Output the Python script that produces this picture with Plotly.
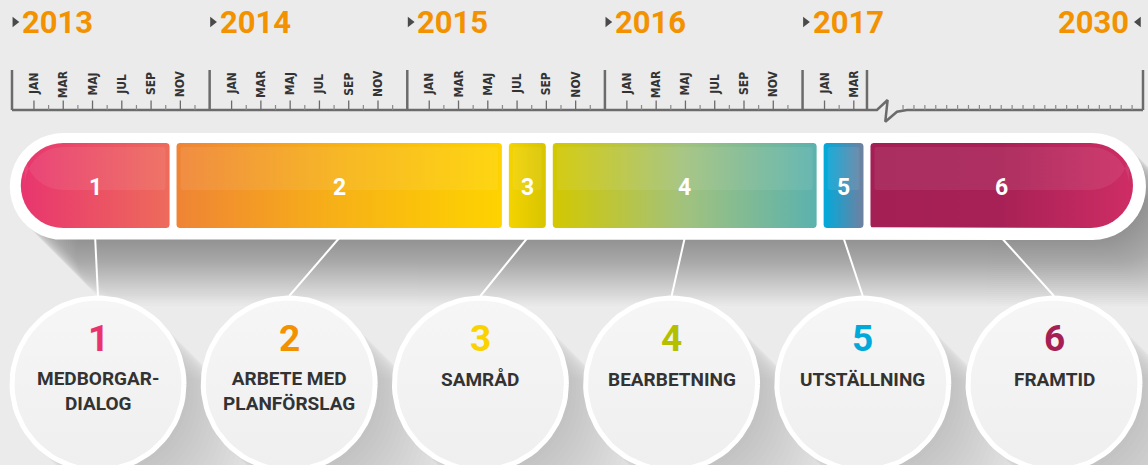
import numpy as np
import plotly.graph_objects as go

# ---- data ----
YEARS = [2013, 2014, 2015, 2016, 2017]
END_YEAR = 2030
MONTHS = ["JAN", "FEB", "MAR", "APR", "MAJ", "JUN", "JUL", "AUG", "SEP", "OKT", "NOV", "DEC"]
MONTHS_SHOWN_LAST_YEAR = 3  # detailed axis stops after March 2017
FAR_TICK_YEARS = [2019, 2019.5, 2020, 2020.5, 2021, 2021.5, 2022, 2022.5, 2023, 2023.5,
                  2024, 2024.5, 2025, 2025.5, 2026, 2026.5, 2027, 2027.5, 2028, 2028.5,
                  2029, 2029.5]

PHASE_NUMBERS = ["1", "2", "3", "4", "5", "6"]
PHASE_NAMES = ["MEDBORGAR-<br>DIALOG", "ARBETE MED<br>PLANFÖRSLAG", "SAMRÅD",
               "BEARBETNING", "UTSTÄLLNING", "FRAMTID"]
# phase limits in months since January 2013
PHASE_BOUNDS = [0.2, 10.0, 29.7, 32.7, 48.4, 51.0, 198.5]
PHASE_COLORS = ["#E8336E", "#F39200", "#F9D200", "#B4BF00", "#00A9DA", "#A51F54"]
PHASE_GRADIENTS = [
    ["#E8356F", "#EE6B5B"],
    ["#EF8435", "#F7B216", "#FED300"],
    ["#F4D300", "#D7C500"],
    ["#D3C800", "#A1C27E", "#5BB2AE"],
    ["#00AADB", "#7080A0"],
    ["#A41F54", "#A82156", "#CE2D64"],
]

# ---- layout constants ----
W, H = 1148, 465
PX0, PX_PER_U = 12, 14.64
BG = "#EBEBEB"
AXIS = "#6B6B6B"
ORANGE = "#F39200"
TEXT = "#333333"


def upx(px):
    return (px - PX0) / PX_PER_U


def timeline_scale():
    m_pts, u_pts = [], []
    for i, year in enumerate(YEARS):
        n = 12 if year < YEARS[-1] else MONTHS_SHOWN_LAST_YEAR
        m_pts.append(12 * i)
        u_pts.append(13.5 * i)
        for k in range(n):
            m_pts.append(12 * i + k + 0.5)
            u_pts.append(13.5 * i + 1.5 + k)
    m_pts.append(12 * (len(YEARS) - 1) + MONTHS_SHOWN_LAST_YEAR)
    u_pts.append(u_pts[-1] + 0.9)
    far_end_u = upx(1143)
    for y in (FAR_TICK_YEARS[0], END_YEAR):
        m_pts.append((y - YEARS[0]) * 12)
        u_pts.append(far_end_u - (END_YEAR - y) * 1.49)
    return lambda m: np.interp(m, m_pts, u_pts)


scale = timeline_scale()


def year_u(y):
    return float(scale((y - YEARS[0]) * 12))


def rounded_rect(x0, x1, y0, y1, rl, rr, n=12):
    t = np.linspace(0, np.pi / 2, n)
    xs, ys = [], []
    xs += list(x0 + rl - rl * np.cos(t)); ys += list(y0 + rl - rl * np.sin(t))
    xs += list(x1 - rr + rr * np.sin(t)); ys += list(y0 + rr - rr * np.cos(t))
    xs += list(x1 - rr + rr * np.cos(t)); ys += list(y1 - rr + rr * np.sin(t))
    xs += list(x0 + rl - rl * np.sin(t)); ys += list(y1 - rl + rl * np.cos(t))
    xs.append(xs[0]); ys.append(ys[0])
    return [upx(v) for v in xs], ys


def circle(cx, cy, r, n=80):
    t = np.linspace(0, 2 * np.pi, n)
    return [upx(v) for v in cx + r * np.cos(t)], list(cy + r * np.sin(t))


fig = go.Figure()


def poly(xs, ys, fill=None, grad=None, line_color="rgba(0,0,0,0)", line_width=0):
    fig.add_trace(go.Scatter(
        x=xs, y=ys, mode="lines", fill="toself", fillcolor=fill, fillgradient=grad,
        line=dict(color=line_color, width=line_width), hoverinfo="skip", showlegend=False,
    ))


def lines(xs, ys, color, width):
    fig.add_trace(go.Scatter(x=xs, y=ys, mode="lines", line=dict(color=color, width=width),
                             hoverinfo="skip", showlegend=False))


# bar geometry
SEG_TOP, SEG_BOT = 143, 228
GAP = 7
seg_px = []
for i in range(len(PHASE_NUMBERS)):
    a = PX0 + PX_PER_U * float(scale(PHASE_BOUNDS[i]))
    b = PX0 + PX_PER_U * float(scale(PHASE_BOUNDS[i + 1]))
    if i > 0:
        a += GAP / 2
    if i < len(PHASE_NUMBERS) - 1:
        b -= GAP / 2
    seg_px.append((a, b))
pill_l, pill_r = seg_px[0][0] - 11, seg_px[-1][1] + 13
PILL_TOP, PILL_BOT = 133, 240

# circle geometry
CIRCLE_CX = [98 + 191.2 * i for i in range(len(PHASE_NUMBERS))]
CIRCLE_CY, CIRCLE_R = 384, 86

# long shadows
for t in range(2, 68, 2):
    xs, ys = rounded_rect(pill_l + t, pill_r + t, PILL_TOP + t, PILL_BOT + t, 53.5, 53.5)
    poly(xs, ys, fill="rgba(0,0,0,0.012)")
for t in range(4, 84, 4):
    xs, ys = [], []
    for cx in CIRCLE_CX:
        cxs, cys = circle(cx + t, CIRCLE_CY + t, CIRCLE_R + 2)
        xs += cxs + [None]
        ys += cys + [None]
    poly(xs, ys, fill="rgba(0,0,0,0.008)")

# connectors
cx_l, cy_l = [], []
for (a, b), cx in zip(seg_px, CIRCLE_CX):
    cx_l += [upx((a + b) / 2), upx(cx), None]
    cy_l += [PILL_BOT - 2, CIRCLE_CY - CIRCLE_R - 2, None]
lines(cx_l, cy_l, "white", 2)

# circles
for cx in CIRCLE_CX:
    xs, ys = circle(cx, CIRCLE_CY, CIRCLE_R)
    poly(xs, ys, grad=dict(type="vertical", colorscale=[[0, "#EFEFEF"], [1, "#F6F6F6"]]),
         line_color="white", line_width=5)

# white pill
xs, ys = rounded_rect(pill_l, pill_r, PILL_TOP, PILL_BOT, 53.5, 53.5)
poly(xs, ys, fill="white")

# phase segments
for i, (a, b) in enumerate(seg_px):
    rl = 42.5 if i == 0 else 3
    rr = 42.5 if i == len(seg_px) - 1 else 3
    stops = PHASE_GRADIENTS[i]
    cs = [[j / (len(stops) - 1), c] for j, c in enumerate(stops)]
    xs, ys = rounded_rect(a, b, SEG_TOP, SEG_BOT, rl, rr)
    poly(xs, ys, grad=dict(type="horizontal", colorscale=cs))
    xs, ys = rounded_rect(a + 4, b - 4, SEG_TOP + 4, 190, max(rl - 4, 2), max(rr - 4, 2))
    poly(xs, ys, fill="rgba(255,255,255,0.07)")

# axis: year lines and baseline
u_end_detail = float(scale(12 * (len(YEARS) - 1) + MONTHS_SHOWN_LAST_YEAR))
u_2030 = year_u(END_YEAR)
major_x, major_y = [], []
for y in YEARS:
    major_x += [year_u(y), year_u(y), None]
    major_y += [70, 110, None]
major_x += [u_end_detail, u_end_detail, None, u_2030, u_2030, None]
major_y += [70, 110, None, 70, 110, None]
zig_dx = [0, 0.68, 1.41, 1.25, 2.05, 2.73]
zig_y = [110, 110, 100, 121.7, 111.7, 110]
major_x += [year_u(YEARS[0]), u_end_detail] + [u_end_detail + d for d in zig_dx] + [u_2030]
major_y += [110, 110] + zig_y + [110]
lines(major_x, major_y, AXIS, 2.5)

long_x, long_y, short_x, short_y = [], [], [], []
for i, year in enumerate(YEARS):
    n = 12 if year < YEARS[-1] else MONTHS_SHOWN_LAST_YEAR
    for k in range(n):
        u = float(scale(12 * i + k + 0.5))
        if k % 2 == 0:
            long_x += [u, u, None]; long_y += [100.5, 110, None]
        else:
            short_x += [u, u, None]; short_y += [105, 110, None]
for y in FAR_TICK_YEARS:
    u = year_u(y)
    short_x += [u, u, None]; short_y += [105, 110, None]
lines(long_x, long_y, AXIS, 1.3)
lines(short_x, short_y, "#8A8A8A", 1.2)

# year triangles
fig.add_trace(go.Scatter(
    x=[year_u(y) + upx(14.8) for y in YEARS], y=[22] * len(YEARS), mode="markers",
    marker=dict(symbol="triangle-right", size=9, color="#4A4A4A"), hoverinfo="skip", showlegend=False))
fig.add_trace(go.Scatter(
    x=[u_2030 - upx(16.5)], y=[22], mode="markers",
    marker=dict(symbol="triangle-left", size=9, color="#4A4A4A"), hoverinfo="skip", showlegend=False))

ann = []
for y in YEARS:
    ann.append(dict(x=year_u(y) + upx(20), y=22, text=str(y), xanchor="left", yanchor="middle",
                    font=dict(family="Roboto", size=31, color=ORANGE, weight=700)))
ann.append(dict(x=u_2030 - upx(24), y=22, text=str(END_YEAR), xanchor="right", yanchor="middle",
                font=dict(family="Roboto", size=31, color=ORANGE, weight=700)))

for i, year in enumerate(YEARS):
    n = 12 if year < YEARS[-1] else MONTHS_SHOWN_LAST_YEAR
    for k in range(0, n, 2):
        ann.append(dict(x=float(scale(12 * i + k + 0.5)), y=84, text=MONTHS[k], textangle=-90,
                        xanchor="center", yanchor="middle",
                        font=dict(family="DejaVu Sans Condensed, DejaVu Sans, sans-serif",
                                  size=12, color=TEXT, weight=700)))

for i, (a, b) in enumerate(seg_px):
    ann.append(dict(x=upx((a + b) / 2), y=187, text=PHASE_NUMBERS[i], xanchor="center", yanchor="middle",
                    font=dict(family="Roboto", size=23, color="white", weight=700)))
    ann.append(dict(x=upx(CIRCLE_CX[i]), y=338, text=PHASE_NUMBERS[i], xanchor="center", yanchor="middle",
                    font=dict(family="Roboto", size=37, color=PHASE_COLORS[i], weight=700)))
    n_lines = PHASE_NAMES[i].count("<br>") + 1
    ann.append(dict(x=upx(CIRCLE_CX[i]), y=379 + 12 * (n_lines - 1), text=PHASE_NAMES[i],
                    xanchor="center", yanchor="middle",
                    font=dict(family="Roboto", size=19, color=TEXT, weight=700)))

for a in ann:
    a.update(xref="x", yref="y", showarrow=False)

fig.update_layout(
    width=W, height=H, margin=dict(l=0, r=0, t=0, b=0),
    paper_bgcolor=BG, plot_bgcolor=BG, showlegend=False,
    xaxis=dict(range=[upx(0), upx(W)], visible=False, fixedrange=True),
    yaxis=dict(range=[H, 0], visible=False, fixedrange=True),
    annotations=ann,
)

fig.write_html("out.html", post_script="document.body.style.margin='0';",
               config={"displayModeBar": False})
